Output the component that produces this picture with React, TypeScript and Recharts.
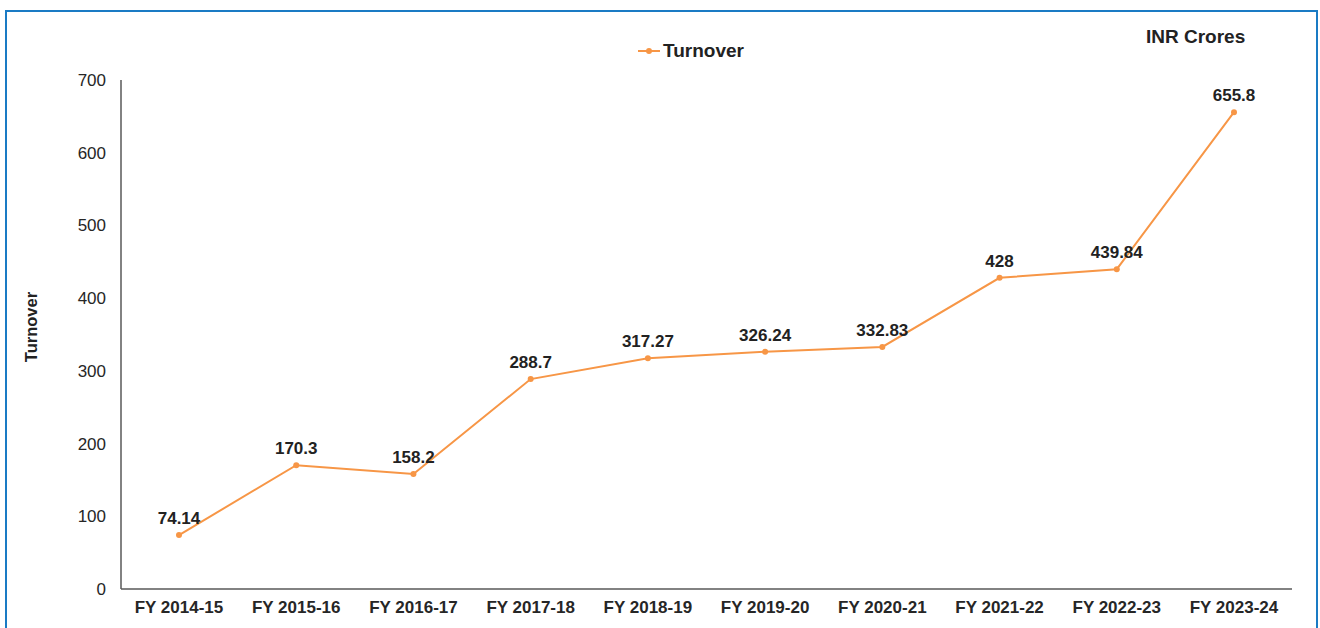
import React from "react";
import {
  LineChart,
  Line,
  XAxis,
  YAxis,
  Legend,
  LabelList,
  Label,
} from "recharts";

const years = [
  "FY 2014-15",
  "FY 2015-16",
  "FY 2016-17",
  "FY 2017-18",
  "FY 2018-19",
  "FY 2019-20",
  "FY 2020-21",
  "FY 2021-22",
  "FY 2022-23",
  "FY 2023-24",
];
const turnover = [74.14, 170.3, 158.2, 288.7, 317.27, 326.24, 332.83, 428, 439.84, 655.8];
const yTicks = [0, 100, 200, 300, 400, 500, 600, 700];

const ORANGE = "#F79646";
const FONT = "'Liberation Sans', Arial, sans-serif";

const data = years.map((year, i) => ({ year, turnover: turnover[i] }));

function LegendContent() {
  return (
    <div style={{ display: "flex", alignItems: "center", fontFamily: FONT }}>
      <svg width={24} height={10}>
        <line x1={0} y1={5} x2={22} y2={5} stroke={ORANGE} strokeWidth={2} />
        <circle cx={11} cy={5} r={3} fill={ORANGE} />
      </svg>
      <span style={{ fontWeight: 700, fontSize: 19, color: "#222", marginLeft: 1 }}>
        Turnover
      </span>
    </div>
  );
}

export default function App() {
  return (
    <div
      style={{
        position: "absolute",
        left: 0,
        top: 0,
        width: 1320,
        height: 628,
        overflow: "hidden",
        background: "#fff",
        fontFamily: FONT,
      }}
    >
      <div
        style={{
          position: "absolute",
          left: 5,
          top: 10,
          width: 1309,
          height: 640,
          border: "2px solid #1A7BC4",
        }}
      />
      <div
        style={{
          position: "absolute",
          left: 1146,
          top: 26,
          fontSize: 19,
          fontWeight: 700,
          color: "#222",
        }}
      >
        INR Crores
      </div>
      <LineChart
        width={1320}
        height={628}
        data={data}
        margin={{ top: 58, right: 28, bottom: 9, left: 0 }}
        style={{ position: "absolute", left: 0, top: 0 }}
      >
        <XAxis
          dataKey="year"
          height={30}
          padding={{ left: 58, right: 58 }}
          axisLine={{ stroke: "#595959", strokeWidth: 1.5 }}
          tickLine={false}
          tickSize={0}
          tickMargin={12}
          interval={0}
          tick={{ fontSize: 17, fontWeight: 700, fill: "#262626", fontFamily: FONT }}
        />
        <YAxis
          width={121}
          domain={[0, 700]}
          ticks={yTicks}
          axisLine={{ stroke: "#595959", strokeWidth: 1.5 }}
          tickLine={false}
          tickSize={0}
          tickMargin={15}
          tick={{ fontSize: 17, fill: "#262626", fontFamily: FONT }}
        >
          <Label
            content={() => (
              <text
                x={0}
                y={0}
                transform="translate(37, 327) rotate(-90)"
                textAnchor="middle"
                fontSize={16.5}
                fontWeight={700}
                fill="#222"
                fontFamily={FONT}
              >
                Turnover
              </text>
            )}
          />
        </YAxis>
        <Legend
          verticalAlign="top"
          content={<LegendContent />}
          wrapperStyle={{ top: 40, left: 638, width: "auto" }}
        />
        <Line
          type="linear"
          dataKey="turnover"
          name="Turnover"
          stroke={ORANGE}
          strokeWidth={2}
          dot={{ r: 3, fill: ORANGE, stroke: ORANGE, strokeWidth: 0 }}
          activeDot={false}
          isAnimationActive={false}
        >
          <LabelList
            dataKey="turnover"
            position="top"
            offset={11}
            style={{ fontSize: 17, fontWeight: 700, fill: "#222", fontFamily: FONT }}
          />
        </Line>
      </LineChart>
    </div>
  );
}
